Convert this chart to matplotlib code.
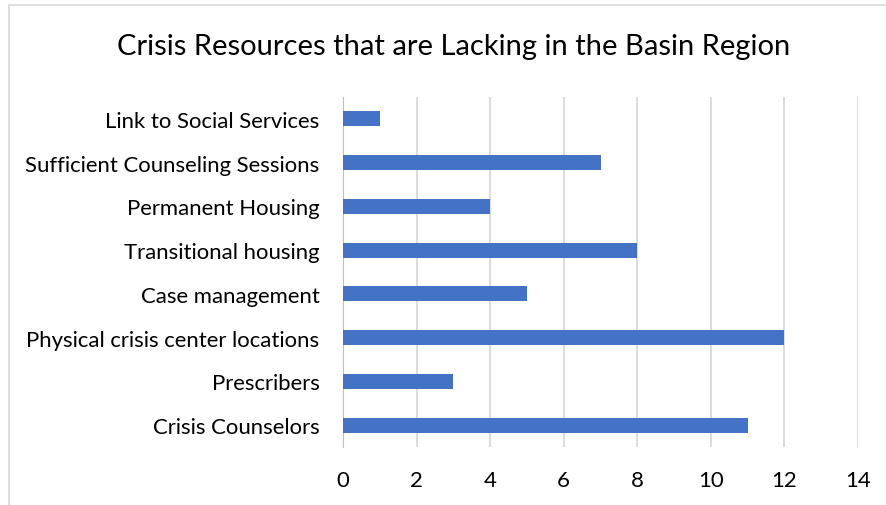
import matplotlib.pyplot as plt
from matplotlib.patches import Rectangle

categories = [
    "Crisis Counselors",
    "Prescribers",
    "Physical crisis center locations",
    "Case management",
    "Transitional housing",
    "Permanent Housing",
    "Sufficient Counseling Sessions",
    "Link to Social Services",
]
counts = [11, 3, 12, 5, 8, 4, 7, 1]
xticks = [0, 2, 4, 6, 8, 10, 12, 14]

plt.rcParams["font.family"] = ["Lato", "DejaVu Sans"]

W, H = 886, 506
fig = plt.figure(figsize=(W / 100, H / 100), dpi=100)

# light chart border (only top/left edges visible)
fig.patches.append(Rectangle((9 / W, -0.1), 1.2, (H - 6) / H + 0.1,
                             transform=fig.transFigure, fill=False,
                             edgecolor="#d9d9d9", linewidth=1.2))

ax = fig.add_axes([343 / W, (H - 448) / H, (858 - 343) / W, (448 - 98) / H])
ax.barh(range(len(categories)), counts, height=0.34, color="#4472c4", zorder=3)

ax.set_xlim(0, 14)
ax.set_ylim(-0.5, len(categories) - 0.5)
ax.set_xticks(xticks)
ax.set_yticks(range(len(categories)))
ax.set_yticklabels(categories)
ax.grid(axis="x", color="#d9d9d9", linewidth=1.3, zorder=0)
for s in ["top", "right", "bottom"]:
    ax.spines[s].set_visible(False)
ax.spines["left"].set_color("#bfbfbf")
ax.tick_params(axis="both", length=0, labelsize=15.9, colors="#000000")
ax.tick_params(axis="y", pad=17)
ax.tick_params(axis="x", pad=16.5)

fig.text(454 / W, 1 - 47 / H, "Crisis Resources that are Lacking in the Basin Region",
         ha="center", va="center", fontsize=21)

fig.savefig("out.png", dpi=100)
